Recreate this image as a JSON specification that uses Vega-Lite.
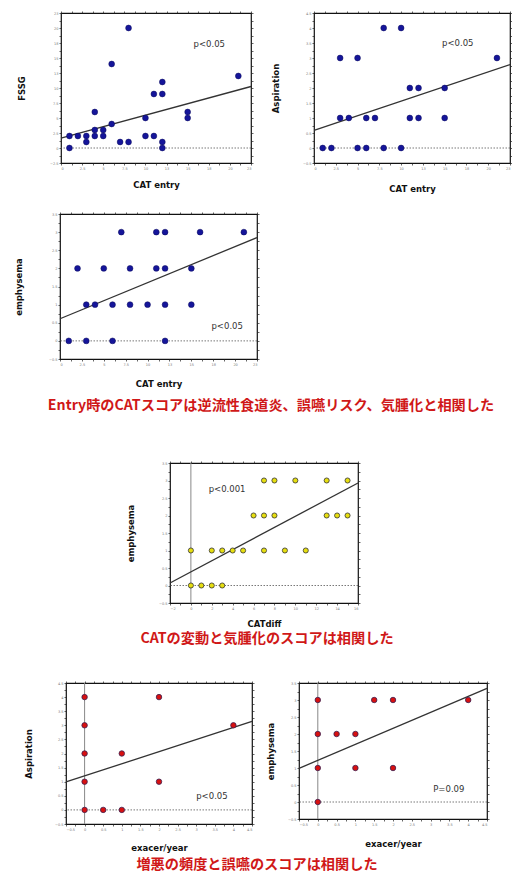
{
  "$schema": "https://vega.github.io/schema/vega-lite/v6.json",
  "padding": 0,
  "background": "white",
  "config": {
    "view": {"stroke": "#111", "strokeWidth": 1.2},
    "axis": {"grid": false, "domain": false, "tickColor": "#222", "tickSize": 2, "tickWidth": 0.7, "labelFontSize": 3.5, "labelColor": "#777", "labelPadding": 1, "labelFont": "DejaVu Sans", "titleFont": "DejaVu Sans", "titleFontSize": 8.5, "titleFontWeight": "bold", "titleColor": "#111", "titleBaseline": "middle", "labelOverlap": false}
  },
  "datasets": {
    "p1_pts": [{"x":1,"y":0},{"x":1,"y":2},{"x":2,"y":2},{"x":3,"y":2},{"x":3,"y":1},{"x":4,"y":6},{"x":4,"y":3},{"x":4,"y":2},{"x":5,"y":3},{"x":5,"y":2},{"x":6,"y":14},{"x":6,"y":4},{"x":7,"y":1},{"x":8,"y":20},{"x":8,"y":1},{"x":10,"y":5},{"x":10,"y":2},{"x":11,"y":9},{"x":11,"y":2},{"x":12,"y":11},{"x":12,"y":9},{"x":12,"y":1},{"x":12,"y":0},{"x":15,"y":6},{"x":15,"y":5},{"x":21,"y":12}],
    "p1_fit": [{"x":0,"y":1.63},{"x":22.5,"y":10.25}],
    "p2_pts": [{"x":1,"y":0},{"x":2,"y":0},{"x":3,"y":3},{"x":3,"y":1},{"x":4,"y":1},{"x":5,"y":3},{"x":5,"y":0},{"x":6,"y":1},{"x":6,"y":0},{"x":7,"y":1},{"x":8,"y":4},{"x":8,"y":0},{"x":10,"y":4},{"x":10,"y":0},{"x":11,"y":2},{"x":11,"y":1},{"x":12,"y":2},{"x":12,"y":1},{"x":15,"y":2},{"x":15,"y":1},{"x":21,"y":3}],
    "p2_fit": [{"x":0,"y":0.59},{"x":22.5,"y":2.78}],
    "p3_pts": [{"x":1,"y":0},{"x":2,"y":2},{"x":3,"y":1},{"x":3,"y":0},{"x":4,"y":1},{"x":5,"y":2},{"x":6,"y":1},{"x":6,"y":0},{"x":7,"y":3},{"x":8,"y":2},{"x":8,"y":1},{"x":10,"y":1},{"x":11,"y":3},{"x":11,"y":2},{"x":12,"y":3},{"x":12,"y":2},{"x":12,"y":1},{"x":12,"y":0},{"x":15,"y":2},{"x":15,"y":1},{"x":16,"y":3},{"x":21,"y":3}],
    "p3_fit": [{"x":0,"y":0.61},{"x":22.5,"y":2.85}],
    "p4_pts": [{"x":0,"y":1},{"x":0,"y":0},{"x":1,"y":0},{"x":2,"y":1},{"x":2,"y":0},{"x":3,"y":1},{"x":3,"y":0},{"x":4,"y":1},{"x":5,"y":1},{"x":6,"y":2},{"x":7,"y":3},{"x":7,"y":2},{"x":7,"y":1},{"x":8,"y":3},{"x":8,"y":2},{"x":9,"y":1},{"x":10,"y":3},{"x":11,"y":1},{"x":13,"y":3},{"x":13,"y":2},{"x":14,"y":2},{"x":15,"y":3},{"x":15,"y":2}],
    "p4_fit": [{"x":-2,"y":0.07},{"x":16,"y":2.93}],
    "p5_pts": [{"x":0,"y":4},{"x":0,"y":3},{"x":0,"y":2},{"x":0,"y":1},{"x":0,"y":0},{"x":0.5,"y":0},{"x":1,"y":2},{"x":1,"y":0},{"x":2,"y":4},{"x":2,"y":1},{"x":4,"y":3}],
    "p5_fit": [{"x":-0.5,"y":0.99},{"x":4.5,"y":3.14}],
    "p6_pts": [{"x":0,"y":3},{"x":0,"y":2},{"x":0,"y":1},{"x":0,"y":0},{"x":0.5,"y":2},{"x":1,"y":2},{"x":1,"y":1},{"x":1.5,"y":3},{"x":2,"y":3},{"x":2,"y":1},{"x":4,"y":3}],
    "p6_fit": [{"x":-0.5,"y":0.99},{"x":4.5,"y":3.34}]
  },
  "bounds": "flush",
  "spacing": 0,
  "vconcat": [
    {"width": 1, "height": 13, "view": {"stroke": null}, "data": {"values": []}, "mark": "point"},
    {"hconcat": [
      {"width": 61, "height": 1, "view": {"stroke": null}, "data": {"values": []}, "mark": "point"},
      {"width": 190, "height": 150,
       "resolve": {"axis": {"x": "independent", "y": "independent"}},
       "layer": [
        {"data": {"values": [{"z": 0}]}, "mark": {"type": "rule", "stroke": "#555", "strokeDash": [1.5, 1.5], "strokeWidth": 0.8},
         "encoding": {"y": {"field": "z", "type": "quantitative", "scale": {"domain": [-2.5, 22.5], "nice": false, "zero": false}, "axis": null}}},
        {"data": {"name": "p1_fit"}, "mark": {"type": "line", "stroke": "#333", "strokeWidth": 1.3},
         "encoding": {
          "x": {"field": "x", "type": "quantitative", "scale": {"domain": [0, 22.5], "nice": false, "zero": false}, "axis": {"orient": "top", "labels": false, "title": null, "values": [0,1.25,2.5,3.75,5,6.25,7.5,8.75,10,11.25,12.5,13.75,15,16.25,17.5,18.75,20,21.25,22.5]}},
          "y": {"field": "y", "type": "quantitative", "scale": {"domain": [-2.5, 22.5], "nice": false, "zero": false}, "axis": {"orient": "right", "labels": false, "title": null, "values": [-2.5,-1.25,0,1.25,2.5,3.75,5,6.25,7.5,8.75,10,11.25,12.5,13.75,15,16.25,17.5,18.75,20,21.25,22.5]}}}},
        {"data": {"name": "p1_pts"}, "mark": {"type": "circle", "size": 34, "fill": "#15159a", "stroke": "#0a0a5a", "strokeWidth": 0.5, "opacity": 1},
         "encoding": {
          "x": {"field": "x", "type": "quantitative", "scale": {"domain": [0, 22.5], "nice": false, "zero": false}, "axis": {"title": "CAT entry", "titleY": 21, "format": "~g", "labelExpr": "datum.value % 2.5 === 0 ? datum.label : ''", "values": [0,1.25,2.5,3.75,5,6.25,7.5,8.75,10,11.25,12.5,13.75,15,16.25,17.5,18.75,20,21.25,22.5]}},
          "y": {"field": "y", "type": "quantitative", "scale": {"domain": [-2.5, 22.5], "nice": false, "zero": false}, "axis": {"title": "FSSG", "titleX": -40, "format": "~g", "labelExpr": "datum.value % 2.5 === 0 ? datum.label : ''", "values": [-2.5,-1.25,0,1.25,2.5,3.75,5,6.25,7.5,8.75,10,11.25,12.5,13.75,15,16.25,17.5,18.75,20,21.25,22.5]}}}},
        {"data": {"values": [{"x": 15.7, "y": 17.3, "t": "p<0.05"}]}, "mark": {"type": "text", "align": "left", "baseline": "middle", "fontSize": 8.5, "font": "DejaVu Sans", "color": "#333"},
         "encoding": {"x": {"field": "x", "type": "quantitative", "axis": null}, "y": {"field": "y", "type": "quantitative", "axis": null}, "text": {"field": "t"}}}
       ]},
      {"width": 63, "height": 1, "view": {"stroke": null}, "data": {"values": []}, "mark": "point"},
      {"width": 196, "height": 150,
       "resolve": {"axis": {"x": "independent", "y": "independent"}},
       "layer": [
        {"data": {"values": [{"z": 0}]}, "mark": {"type": "rule", "stroke": "#555", "strokeDash": [1.5, 1.5], "strokeWidth": 0.8},
         "encoding": {"y": {"field": "z", "type": "quantitative", "scale": {"domain": [-0.5, 4.5], "nice": false, "zero": false}, "axis": null}}},
        {"data": {"name": "p2_fit"}, "mark": {"type": "line", "stroke": "#333", "strokeWidth": 1.3},
         "encoding": {
          "x": {"field": "x", "type": "quantitative", "scale": {"domain": [0, 22.5], "nice": false, "zero": false}, "axis": {"orient": "top", "labels": false, "title": null, "values": [0,1.25,2.5,3.75,5,6.25,7.5,8.75,10,11.25,12.5,13.75,15,16.25,17.5,18.75,20,21.25,22.5]}},
          "y": {"field": "y", "type": "quantitative", "scale": {"domain": [-0.5, 4.5], "nice": false, "zero": false}, "axis": {"orient": "right", "labels": false, "title": null, "values": [-0.5,-0.25,0,0.25,0.5,0.75,1,1.25,1.5,1.75,2,2.25,2.5,2.75,3,3.25,3.5,3.75,4,4.25,4.5]}}}},
        {"data": {"name": "p2_pts"}, "mark": {"type": "circle", "size": 34, "fill": "#15159a", "stroke": "#0a0a5a", "strokeWidth": 0.5, "opacity": 1},
         "encoding": {
          "x": {"field": "x", "type": "quantitative", "scale": {"domain": [0, 22.5], "nice": false, "zero": false}, "axis": {"title": "CAT entry", "titleY": 25, "labelFlush": true, "format": "~g", "labelExpr": "datum.value % 2.5 === 0 ? datum.label : ''", "values": [0,1.25,2.5,3.75,5,6.25,7.5,8.75,10,11.25,12.5,13.75,15,16.25,17.5,18.75,20,21.25,22.5]}},
          "y": {"field": "y", "type": "quantitative", "scale": {"domain": [-0.5, 4.5], "nice": false, "zero": false}, "axis": {"title": "Aspiration", "titleX": -39, "format": "~g", "labelExpr": "datum.value % 0.5 === 0 ? datum.label : ''", "values": [-0.5,-0.25,0,0.25,0.5,0.75,1,1.25,1.5,1.75,2,2.25,2.5,2.75,3,3.25,3.5,3.75,4,4.25,4.5]}}}},
        {"data": {"values": [{"x": 14.7, "y": 3.5, "t": "p<0.05"}]}, "mark": {"type": "text", "align": "left", "baseline": "middle", "fontSize": 8.5, "font": "DejaVu Sans", "color": "#333"},
         "encoding": {"x": {"field": "x", "type": "quantitative", "axis": null}, "y": {"field": "y", "type": "quantitative", "axis": null}, "text": {"field": "t"}}}
       ]}
     ], "spacing": 0, "bounds": "flush"},
    {"width": 1, "height": 201, "view": {"stroke": null}, "data": {"values": []}, "mark": "point"},
    {"hconcat": [
      {"width": 60, "height": 1, "view": {"stroke": null}, "data": {"values": []}, "mark": "point"},
      {"width": 197, "height": 145,
       "resolve": {"axis": {"x": "independent", "y": "independent"}},
       "layer": [
        {"data": {"values": [{"z": 0}]}, "mark": {"type": "rule", "stroke": "#555", "strokeDash": [1.5, 1.5], "strokeWidth": 0.8},
         "encoding": {"y": {"field": "z", "type": "quantitative", "scale": {"domain": [-0.5, 3.5], "nice": false, "zero": false}, "axis": null}}},
        {"data": {"name": "p3_fit"}, "mark": {"type": "line", "stroke": "#333", "strokeWidth": 1.3},
         "encoding": {
          "x": {"field": "x", "type": "quantitative", "scale": {"domain": [0, 22.5], "nice": false, "zero": false}, "axis": {"orient": "top", "labels": false, "title": null, "values": [0,1.25,2.5,3.75,5,6.25,7.5,8.75,10,11.25,12.5,13.75,15,16.25,17.5,18.75,20,21.25,22.5]}},
          "y": {"field": "y", "type": "quantitative", "scale": {"domain": [-0.5, 3.5], "nice": false, "zero": false}, "axis": {"orient": "right", "labels": false, "title": null, "values": [-0.5,-0.25,0,0.25,0.5,0.75,1,1.25,1.5,1.75,2,2.25,2.5,2.75,3,3.25,3.5]}}}},
        {"data": {"name": "p3_pts"}, "mark": {"type": "circle", "size": 34, "fill": "#15159a", "stroke": "#0a0a5a", "strokeWidth": 0.5, "opacity": 1},
         "encoding": {
          "x": {"field": "x", "type": "quantitative", "scale": {"domain": [0, 22.5], "nice": false, "zero": false}, "axis": {"title": "CAT entry", "titleY": 24, "format": "~g", "labelExpr": "datum.value % 2.5 === 0 ? datum.label : ''", "values": [0,1.25,2.5,3.75,5,6.25,7.5,8.75,10,11.25,12.5,13.75,15,16.25,17.5,18.75,20,21.25,22.5]}},
          "y": {"field": "y", "type": "quantitative", "scale": {"domain": [-0.5, 3.5], "nice": false, "zero": false}, "axis": {"title": "emphysema", "titleX": -42, "format": "~g", "labelExpr": "datum.value % 0.5 === 0 ? datum.label : ''", "values": [-0.5,-0.25,0,0.25,0.5,0.75,1,1.25,1.5,1.75,2,2.25,2.5,2.75,3,3.25,3.5]}}}},
        {"data": {"values": [{"x": 17.3, "y": 0.41, "t": "p<0.05"}]}, "mark": {"type": "text", "align": "left", "baseline": "middle", "fontSize": 8.5, "font": "DejaVu Sans", "color": "#333"},
         "encoding": {"x": {"field": "x", "type": "quantitative", "axis": null}, "y": {"field": "y", "type": "quantitative", "axis": null}, "text": {"field": "t"}}}
       ]}
     ], "spacing": 0, "bounds": "flush"},
    {"width": 1, "height": 145, "view": {"stroke": null}, "data": {"values": []}, "mark": "point"},
    {"hconcat": [
      {"width": 32, "height": 1, "view": {"stroke": null}, "data": {"values": []}, "mark": "point"},
      {"width": 478, "height": 94, "view": {"stroke": null},
       "data": {"values": [{"t": "Entry時のCATスコアは逆流性食道炎、誤嚥リスク、気腫化と相関した"}]},
       "mark": {"type": "text", "font": "Noto Sans CJK JP", "fontSize": 14.2, "fontWeight": "bold", "color": "#d01818"},
       "encoding": {"text": {"field": "t"}}}
     ], "spacing": 0, "bounds": "flush"},
    {"width": 1, "height": 104, "view": {"stroke": null}, "data": {"values": []}, "mark": "point"},
    {"hconcat": [
      {"width": 170, "height": 1, "view": {"stroke": null}, "data": {"values": []}, "mark": "point"},
      {"width": 188, "height": 140,
       "resolve": {"axis": {"x": "independent", "y": "independent"}},
       "layer": [
        {"data": {"values": [{"z": 0}]}, "mark": {"type": "rule", "stroke": "#555", "strokeDash": [1.5, 1.5], "strokeWidth": 0.8},
         "encoding": {"y": {"field": "z", "type": "quantitative", "scale": {"domain": [-0.5, 3.5], "nice": false, "zero": false}, "axis": null}}},
        {"data": {"values": [{"z": 0}]}, "mark": {"type": "rule", "stroke": "#888", "strokeWidth": 1},
         "encoding": {"x": {"field": "z", "type": "quantitative", "scale": {"domain": [-2, 16], "nice": false, "zero": false}, "axis": null}}},
        {"data": {"name": "p4_fit"}, "mark": {"type": "line", "stroke": "#333", "strokeWidth": 1.3},
         "encoding": {
          "x": {"field": "x", "type": "quantitative", "scale": {"domain": [-2, 16], "nice": false, "zero": false}, "axis": {"orient": "top", "labels": false, "title": null, "values": [-2,-1,0,1,2,3,4,5,6,7,8,9,10,11,12,13,14,15,16]}},
          "y": {"field": "y", "type": "quantitative", "scale": {"domain": [-0.5, 3.5], "nice": false, "zero": false}, "axis": {"orient": "right", "labels": false, "title": null, "values": [-0.5,-0.25,0,0.25,0.5,0.75,1,1.25,1.5,1.75,2,2.25,2.5,2.75,3,3.25,3.5]}}}},
        {"data": {"name": "p4_pts"}, "mark": {"type": "circle", "size": 26, "fill": "#e6de10", "stroke": "#333", "strokeWidth": 0.8, "opacity": 1},
         "encoding": {
          "x": {"field": "x", "type": "quantitative", "scale": {"domain": [-2, 16], "nice": false, "zero": false}, "axis": {"title": "CATdiff", "titleY": 20, "format": "~g", "labelExpr": "datum.value % 2 === 0 ? datum.label : ''", "values": [-2,-1,0,1,2,3,4,5,6,7,8,9,10,11,12,13,14,15,16]}},
          "y": {"field": "y", "type": "quantitative", "scale": {"domain": [-0.5, 3.5], "nice": false, "zero": false}, "axis": {"title": "emphysema", "titleX": -40, "format": "~g", "labelExpr": "datum.value % 0.5 === 0 ? datum.label : ''", "values": [-0.5,-0.25,0,0.25,0.5,0.75,1,1.25,1.5,1.75,2,2.25,2.5,2.75,3,3.25,3.5]}}}},
        {"data": {"values": [{"x": 1.7, "y": 2.77, "t": "p<0.001"}]}, "mark": {"type": "text", "align": "left", "baseline": "middle", "fontSize": 8.5, "font": "DejaVu Sans", "color": "#333"},
         "encoding": {"x": {"field": "x", "type": "quantitative", "axis": null}, "y": {"field": "y", "type": "quantitative", "axis": null}, "text": {"field": "t"}}}
       ]}
     ], "spacing": 0, "bounds": "flush"},
    {"width": 1, "height": 140, "view": {"stroke": null}, "data": {"values": []}, "mark": "point"},
    {"hconcat": [
      {"width": 24, "height": 1, "view": {"stroke": null}, "data": {"values": []}, "mark": "point"},
      {"width": 486, "height": 72, "view": {"stroke": null},
       "data": {"values": [{"t": "CATの変動と気腫化のスコアは相関した"}]},
       "mark": {"type": "text", "font": "Noto Sans CJK JP", "fontSize": 14.2, "fontWeight": "bold", "color": "#d01818"},
       "encoding": {"text": {"field": "t"}}}
     ], "spacing": 0, "bounds": "flush"},
    {"width": 1, "height": 80, "view": {"stroke": null}, "data": {"values": []}, "mark": "point"},
    {"hconcat": [
      {"width": 66, "height": 1, "view": {"stroke": null}, "data": {"values": []}, "mark": "point"},
      {"width": 186, "height": 141,
       "resolve": {"axis": {"x": "independent", "y": "independent"}},
       "layer": [
        {"data": {"values": [{"z": 0}]}, "mark": {"type": "rule", "stroke": "#555", "strokeDash": [1.5, 1.5], "strokeWidth": 0.8},
         "encoding": {"y": {"field": "z", "type": "quantitative", "scale": {"domain": [-0.5, 4.5], "nice": false, "zero": false}, "axis": null}}},
        {"data": {"values": [{"z": 0}]}, "mark": {"type": "rule", "stroke": "#888", "strokeWidth": 1},
         "encoding": {"x": {"field": "z", "type": "quantitative", "scale": {"domain": [-0.5, 4.5], "nice": false, "zero": false}, "axis": null}}},
        {"data": {"name": "p5_fit"}, "mark": {"type": "line", "stroke": "#333", "strokeWidth": 1.3},
         "encoding": {
          "x": {"field": "x", "type": "quantitative", "scale": {"domain": [-0.5, 4.5], "nice": false, "zero": false}, "axis": {"orient": "top", "labels": false, "title": null, "values": [-0.5,-0.25,0,0.25,0.5,0.75,1,1.25,1.5,1.75,2,2.25,2.5,2.75,3,3.25,3.5,3.75,4,4.25,4.5]}},
          "y": {"field": "y", "type": "quantitative", "scale": {"domain": [-0.5, 4.5], "nice": false, "zero": false}, "axis": {"orient": "right", "labels": false, "title": null, "values": [-0.5,-0.25,0,0.25,0.5,0.75,1,1.25,1.5,1.75,2,2.25,2.5,2.75,3,3.25,3.5,3.75,4,4.25,4.5]}}}},
        {"data": {"name": "p5_pts"}, "mark": {"type": "circle", "size": 30, "fill": "#d81010", "stroke": "#3a2050", "strokeWidth": 0.8, "opacity": 1},
         "encoding": {
          "x": {"field": "x", "type": "quantitative", "scale": {"domain": [-0.5, 4.5], "nice": false, "zero": false}, "axis": {"title": "exacer/year", "titleY": 23, "format": "~g", "labelExpr": "datum.value % 0.5 === 0 ? datum.label : ''", "values": [-0.5,-0.25,0,0.25,0.5,0.75,1,1.25,1.5,1.75,2,2.25,2.5,2.75,3,3.25,3.5,3.75,4,4.25,4.5]}},
          "y": {"field": "y", "type": "quantitative", "scale": {"domain": [-0.5, 4.5], "nice": false, "zero": false}, "axis": {"title": "Aspiration", "titleX": -38, "format": "~g", "labelExpr": "datum.value % 0.5 === 0 ? datum.label : ''", "values": [-0.5,-0.25,0,0.25,0.5,0.75,1,1.25,1.5,1.75,2,2.25,2.5,2.75,3,3.25,3.5,3.75,4,4.25,4.5]}}}},
        {"data": {"values": [{"x": 3.0, "y": 0.5, "t": "p<0.05"}]}, "mark": {"type": "text", "align": "left", "baseline": "middle", "fontSize": 8.5, "font": "DejaVu Sans", "color": "#333"},
         "encoding": {"x": {"field": "x", "type": "quantitative", "axis": null}, "y": {"field": "y", "type": "quantitative", "axis": null}, "text": {"field": "t"}}}
       ]},
      {"width": 47, "height": 1, "view": {"stroke": null}, "data": {"values": []}, "mark": "point"},
      {"width": 188, "height": 136,
       "resolve": {"axis": {"x": "independent", "y": "independent"}},
       "layer": [
        {"data": {"values": [{"z": 0}]}, "mark": {"type": "rule", "stroke": "#555", "strokeDash": [1.5, 1.5], "strokeWidth": 0.8},
         "encoding": {"y": {"field": "z", "type": "quantitative", "scale": {"domain": [-0.5, 3.5], "nice": false, "zero": false}, "axis": null}}},
        {"data": {"values": [{"z": 0}]}, "mark": {"type": "rule", "stroke": "#888", "strokeWidth": 1},
         "encoding": {"x": {"field": "z", "type": "quantitative", "scale": {"domain": [-0.5, 4.5], "nice": false, "zero": false}, "axis": null}}},
        {"data": {"name": "p6_fit"}, "mark": {"type": "line", "stroke": "#333", "strokeWidth": 1.3},
         "encoding": {
          "x": {"field": "x", "type": "quantitative", "scale": {"domain": [-0.5, 4.5], "nice": false, "zero": false}, "axis": {"orient": "top", "labels": false, "title": null, "values": [-0.5,-0.25,0,0.25,0.5,0.75,1,1.25,1.5,1.75,2,2.25,2.5,2.75,3,3.25,3.5,3.75,4,4.25,4.5]}},
          "y": {"field": "y", "type": "quantitative", "scale": {"domain": [-0.5, 3.5], "nice": false, "zero": false}, "axis": {"orient": "right", "labels": false, "title": null, "values": [-0.5,-0.25,0,0.25,0.5,0.75,1,1.25,1.5,1.75,2,2.25,2.5,2.75,3,3.25,3.5]}}}},
        {"data": {"name": "p6_pts"}, "mark": {"type": "circle", "size": 30, "fill": "#d81010", "stroke": "#3a2050", "strokeWidth": 0.8, "opacity": 1},
         "encoding": {
          "x": {"field": "x", "type": "quantitative", "scale": {"domain": [-0.5, 4.5], "nice": false, "zero": false}, "axis": {"title": "exacer/year", "titleY": 24, "format": "~g", "labelExpr": "datum.value % 0.5 === 0 ? datum.label : ''", "values": [-0.5,-0.25,0,0.25,0.5,0.75,1,1.25,1.5,1.75,2,2.25,2.5,2.75,3,3.25,3.5,3.75,4,4.25,4.5]}},
          "y": {"field": "y", "type": "quantitative", "scale": {"domain": [-0.5, 3.5], "nice": false, "zero": false}, "axis": {"title": "emphysema", "titleX": -29, "format": "~g", "labelExpr": "datum.value % 0.5 === 0 ? datum.label : ''", "values": [-0.5,-0.25,0,0.25,0.5,0.75,1,1.25,1.5,1.75,2,2.25,2.5,2.75,3,3.25,3.5]}}}},
        {"data": {"values": [{"x": 3.07, "y": 0.37, "t": "P=0.09"}]}, "mark": {"type": "text", "align": "left", "baseline": "middle", "fontSize": 8.5, "font": "DejaVu Sans", "color": "#333"},
         "encoding": {"x": {"field": "x", "type": "quantitative", "axis": null}, "y": {"field": "y", "type": "quantitative", "axis": null}, "text": {"field": "t"}}}
       ]}
     ], "spacing": 0, "bounds": "flush"},
    {"width": 1, "height": 172, "view": {"stroke": null}, "data": {"values": []}, "mark": "point"},
    {"hconcat": [
      {"width": 2, "height": 1, "view": {"stroke": null}, "data": {"values": []}, "mark": "point"},
      {"width": 510, "height": 19, "view": {"stroke": null},
       "data": {"values": [{"t": "増悪の頻度と誤嚥のスコアは相関した"}]},
       "mark": {"type": "text", "font": "Noto Sans CJK JP", "fontSize": 14.2, "fontWeight": "bold", "color": "#d01818"},
       "encoding": {"text": {"field": "t"}}}
     ], "spacing": 0, "bounds": "flush"},
    {"width": 1, "height": 19, "view": {"stroke": null}, "data": {"values": []}, "mark": "point"}
  ]
}
